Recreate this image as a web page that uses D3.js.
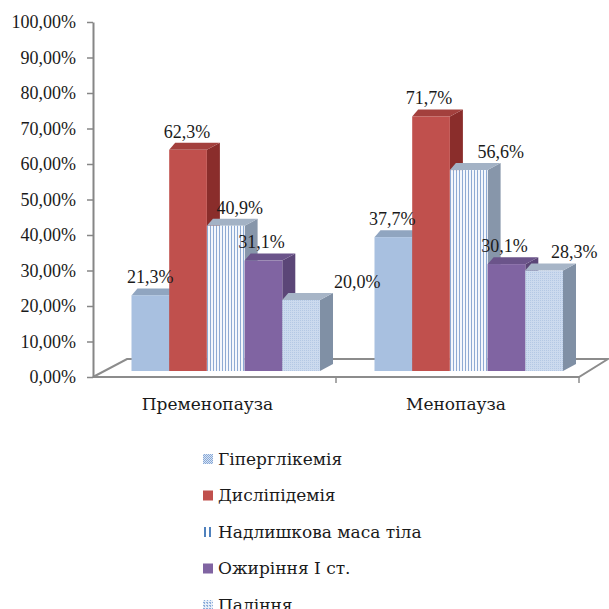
<!DOCTYPE html>
<html>
<head>
<meta charset="utf-8">
<script src="https://cdn.jsdelivr.net/npm/d3@7"></script>
<style>
  body { margin: 0; background: #fff; }
  text { font-family: "Liberation Serif", "Times New Roman", serif; fill: #1a1a1a; }
  text.cyr { font-family: "DejaVu Serif", serif; }
</style>
</head>
<body>
<svg width="609" height="609"></svg>
<script>
// categories and series
var categories = ["Пременопауза", "Менопауза"];
var seriesNames = ["Гіперглікемія", "Дисліпідемія", "Надлишкова маса тіла", "Ожиріння I ст.", "Паління"];
// values in %, one array per series (Пременопауза, Менопауза)
var hyperglycemia = [21.3, 37.7];
var dyslipidemia = [62.3, 71.7];
var overweight = [40.9, 56.6];
var obesity = [31.1, 30.1];
var smoking = [20.0, 28.3];
var tickValues = [0, 10, 20, 30, 40, 50, 60, 70, 80, 90, 100];

var seriesValues = [hyperglycemia, dyslipidemia, overweight, obesity, smoking];

var svg = d3.select("svg");

// number format with comma decimal
var ua = d3.formatLocale({ decimal: ",", thousands: " ", grouping: [3], currency: ["", ""], percent: "%" });
var tickFmt = ua.format(".2%");
var labelFmt = ua.format(".1%");

// scales
var y = d3.scaleLinear().domain([0, 100]).range([377, 22]);
var x0 = d3.scaleBand().domain(categories).range([93, 579]);
var x1 = d3.scaleBand().domain(d3.range(seriesNames.length)).range([38.5, 227]);

// 3d depth of the bars and floor
var dxL = 6, dxR = 13, dy = 7, lift = 6;

var defs = svg.append("defs");

// vertical stripes (Надлишкова маса тіла)
var p = defs.append("pattern").attr("id", "stripes").attr("patternUnits", "userSpaceOnUse")
  .attr("width", 3).attr("height", 3);
p.append("rect").attr("width", 3).attr("height", 3).attr("fill", "#f4f7fc");
p.append("rect").attr("width", 1).attr("height", 3).attr("fill", "#8eaad3");

// fine dots (Паління)
p = defs.append("pattern").attr("id", "dots").attr("patternUnits", "userSpaceOnUse")
  .attr("width", 2).attr("height", 2);
p.append("rect").attr("width", 2).attr("height", 2).attr("fill", "#ccdaee");
p.append("rect").attr("width", 1).attr("height", 1).attr("fill", "#b4c8e4");

// legend patterns
p = defs.append("pattern").attr("id", "legHyper").attr("patternUnits", "userSpaceOnUse")
  .attr("width", 2).attr("height", 2);
p.append("rect").attr("width", 2).attr("height", 2).attr("fill", "#dbe5f3");
p.append("rect").attr("width", 1).attr("height", 1).attr("fill", "#86a8d8");
p.append("rect").attr("x", 1).attr("y", 1).attr("width", 1).attr("height", 1).attr("fill", "#86a8d8");

p = defs.append("pattern").attr("id", "legSmoke").attr("patternUnits", "userSpaceOnUse")
  .attr("width", 3).attr("height", 3);
p.append("rect").attr("width", 3).attr("height", 3).attr("fill", "#e6eef8");
p.append("rect").attr("width", 2).attr("height", 1).attr("fill", "#8eaedb");
p.append("rect").attr("x", 1).attr("y", 1).attr("width", 1).attr("height", 1).attr("fill", "#8eaedb");

var colors = [
  { front: "#a8c0e0", top: "#90a5c0", side: "#7c8ea8", legend: "url(#legHyper)" },
  { front: "#c0504d", top: "#a3403d", side: "#8a2d2b", legend: "#c0504d" },
  { front: "url(#stripes)", top: "#a3b2c5", side: "#8796aa", legend: "stripes" },
  { front: "#8064a2", top: "#6b548a", side: "#5b4677", legend: "#8064a2" },
  { front: "url(#dots)", top: "#a7b5c7", side: "#8090a5", legend: "url(#legSmoke)" }
];

// label nudges (Excel placed some labels off the bar)
var labelNudge = [[0, -1, 14, -2, 56], [-1, -2, 32, -2, 30]];
var catNudge = [-7, -1.5];

// floor
var fx0 = x0.range()[0], fx1 = x0.range()[1], fy = y(0);
svg.append("path")
  .attr("d", "M" + fx0 + "," + fy + "L" + (fx0 + 34) + "," + (fy - 18) + "L" + (fx1 + 29) + "," + (fy - 18) + "L" + fx1 + "," + fy + "Z")
  .attr("fill", "#fff").attr("stroke", "#8c8c8c").attr("stroke-width", 2);

// category ticks under the floor
svg.selectAll(".ctick").data([fx0 + x0.bandwidth(), fx1]).enter().append("line")
  .attr("x1", d => d).attr("x2", d => d).attr("y1", fy).attr("y2", fy + 6)
  .attr("stroke", "#8c8c8c").attr("stroke-width", 1.5);

// y axis
var yAxis = svg.append("g").attr("transform", "translate(" + fx0 + ",0)")
  .call(d3.axisLeft(y).tickValues(tickValues).tickFormat(d => tickFmt(d / 100)).tickSize(6).tickSizeOuter(0).tickPadding(11));
yAxis.select(".domain").attr("stroke", "#868686").attr("stroke-width", 2);
yAxis.selectAll(".tick line").attr("stroke", "#868686").attr("stroke-width", 1.5);
yAxis.selectAll(".tick text").attr("font-size", "18px").attr("fill", "#1a1a1a");

// bars
categories.forEach(function (cat, ci) {
  seriesValues.forEach(function (vals, si) {
    var v = vals[ci];
    var xa = x0(cat) + x1(si), xb = xa + x1.bandwidth();
    var yt = y(v) - lift, yb = y(0) - lift;
    var c = colors[si];
    var g = svg.append("g");
    // side face
    g.append("path")
      .attr("d", "M" + xb + "," + yt + "L" + (xb + dxR) + "," + (yt - dy) + "L" + (xb + dxR) + "," + (yb - dy) + "L" + xb + "," + yb + "Z")
      .attr("fill", c.side);
    // top face
    g.append("path")
      .attr("d", "M" + xa + "," + yt + "L" + (xa + dxL) + "," + (yt - dy) + "L" + (xb + dxR) + "," + (yt - dy) + "L" + xb + "," + yt + "Z")
      .attr("fill", c.top);
    // front face
    g.append("rect").attr("x", xa).attr("y", yt).attr("width", xb - xa).attr("height", yb - yt)
      .attr("fill", c.front);
    // value label
    svg.append("text").attr("class", "vlabel")
      .attr("x", (xa + xb) / 2 + labelNudge[ci][si]).attr("y", yt - 18.5).attr("dy", "0.35em")
      .attr("text-anchor", "middle").attr("font-size", "18px")
      .text(labelFmt(v / 100));
  });
});

// raise labels above bars
svg.selectAll(".vlabel").raise();

// category labels
svg.selectAll(".cat").data(categories).enter().append("text")
  .attr("class", "cyr")
  .attr("x", (d, i) => x0(d) + x0.bandwidth() / 2 + catNudge[i]).attr("y", 404).attr("dy", "0.35em")
  .attr("text-anchor", "middle").attr("font-size", "17px").text(d => d);

// legend
var leg = svg.selectAll(".leg").data(seriesNames).enter().append("g")
  .attr("transform", (d, i) => "translate(203," + (459 + i * 36.5) + ")");
leg.each(function (d, i) {
  var g = d3.select(this);
  if (colors[i].legend === "stripes") {
    g.append("rect").attr("x", 1).attr("y", -5).attr("width", 2).attr("height", 10).attr("fill", "#4f81bd");
    g.append("rect").attr("x", 6).attr("y", -5).attr("width", 2).attr("height", 10).attr("fill", "#4f81bd");
  } else {
    g.append("rect").attr("x", 0).attr("y", -5).attr("width", 10).attr("height", 10).attr("fill", colors[i].legend);
  }
  g.append("text").attr("class", "cyr").attr("x", 15).attr("dy", "0.35em").attr("font-size", "17px").text(d);
});
</script>
</body>
</html>
